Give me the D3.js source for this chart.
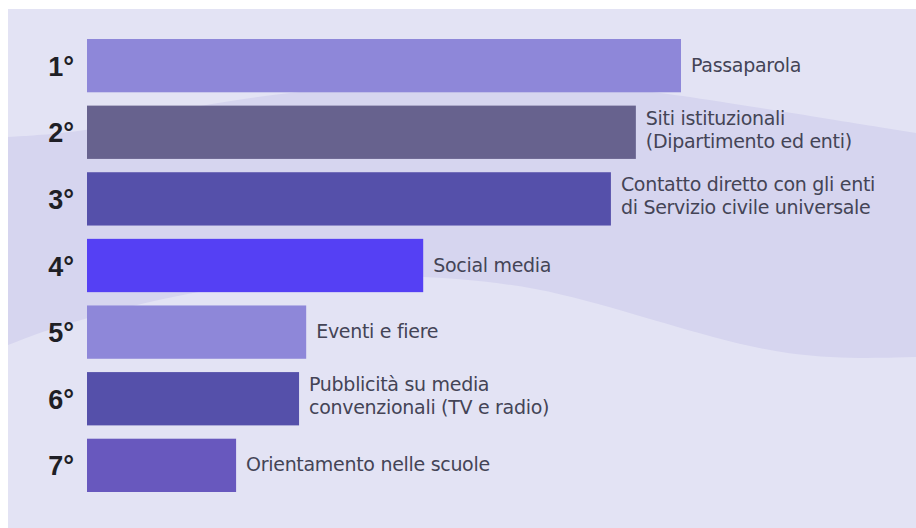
<!DOCTYPE html>
<html>
<head>
<meta charset="utf-8">
<script src="https://cdn.jsdelivr.net/npm/d3@7"></script>
<style>
  html, body { margin: 0; padding: 0; background: #ffffff; }
  svg { display: block; }
</style>
</head>
<body>
<svg id="chart" width="916" height="528"></svg>
<script>
// ---- data ----
const ranks = ["1°", "2°", "3°", "4°", "5°", "6°", "7°"];
const categories = [
  ["Passaparola"],
  ["Siti istituzionali", "(Dipartimento ed enti)"],
  ["Contatto diretto con gli enti", "di Servizio civile universale"],
  ["Social media"],
  ["Eventi e fiere"],
  ["Pubblicità su media", "convenzionali (TV e radio)"],
  ["Orientamento nelle scuole"]
];
// relative bar lengths (ranking, first = 100)
const values = [100, 92.4, 88.2, 56.6, 36.9, 35.7, 25.1];
const colors = ["#8e87d9", "#67628e", "#5550aa", "#5540f4", "#8e87d9", "#5550aa", "#6858be"];

// ---- drawing ----
const W = 916, H = 528;
const svg = d3.select("#chart");

// background panel
svg.append("rect").attr("x", 8).attr("y", 9).attr("width", W - 8).attr("height", H - 9)
  .attr("fill", "#e3e3f4");

// soft wave band
const waveTop = [[8,137],[100,131],[200,102],[400,80],[600,84],[700,98],[916,133]];
const waveBot = [[916,357],[790,360],[660,322],[560,292],[470,278],[320,272],[170,295],[60,325],[8,345]];
const wavePath = d3.line().curve(d3.curveBasis);
svg.append("path")
  .attr("d", wavePath(waveTop) + "L" + wavePath(waveBot).slice(1) + "Z")
  .attr("fill", "#d6d5ef");

const x = d3.scaleLinear().domain([0, 100]).range([87, 681]);
const y = d3.scaleBand().domain(ranks).range([39, 492]).paddingInner(0.2).paddingOuter(0);

const g = svg.append("g");

g.selectAll("rect.bar").data(values).join("rect")
  .attr("class", "bar")
  .attr("x", x(0))
  .attr("y", (d, i) => y(ranks[i]))
  .attr("width", d => x(d) - x(0))
  .attr("height", y.bandwidth())
  .attr("fill", (d, i) => colors[i]);

// rank labels
g.selectAll("text.rank").data(ranks).join("text")
  .attr("class", "rank")
  .attr("x", 74)
  .attr("y", d => y(d) + y.bandwidth() / 2 + 10)
  .attr("text-anchor", "end")
  .attr("font-family", "Liberation Sans, Arial, sans-serif")
  .attr("font-size", 27)
  .attr("font-weight", "bold")
  .attr("fill", "#1f1f26")
  .text(d => d);

// category labels
const lab = g.selectAll("text.cat").data(categories).join("text")
  .attr("class", "cat")
  .attr("font-family", "DejaVu Sans, sans-serif")
  .attr("font-size", 19)
  .attr("letter-spacing", -0.3)
  .attr("fill", "#444456")
  .attr("x", (d, i) => x(values[i]) + 10)
  .attr("y", (d, i) => {
    const c = y(ranks[i]) + y.bandwidth() / 2;
    return d.length === 1 ? c + 6 : c - 7.5;
  });
lab.selectAll("tspan").data(d => d).join("tspan")
  .attr("x", function() { return d3.select(this.parentNode).attr("x"); })
  .attr("dy", (d, j) => j === 0 ? 0 : 23)
  .text(d => d);
</script>
</body>
</html>
